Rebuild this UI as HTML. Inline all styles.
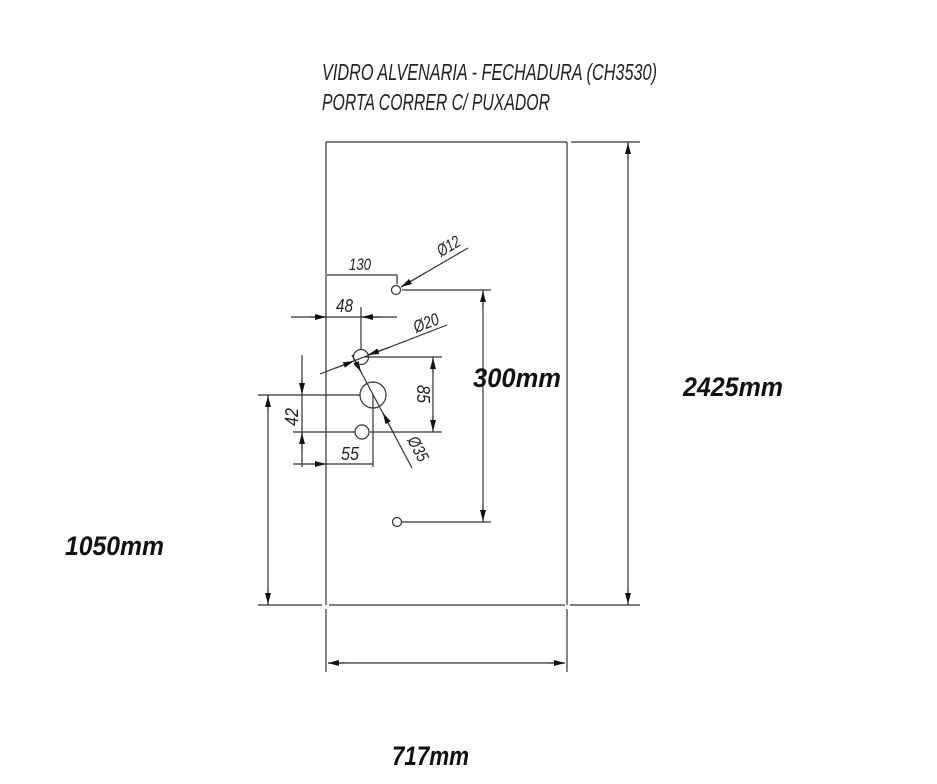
<!DOCTYPE html>
<html><head><meta charset="utf-8"><style>
html,body{margin:0;padding:0;background:#fff;width:937px;height:784px;overflow:hidden}
svg{display:block}
.t{font-family:"Liberation Sans",sans-serif;fill:#222;font-style:italic}
.b{font-family:"Liberation Sans",sans-serif;font-weight:bold;font-style:italic;fill:#111}
</style></head><body>
<svg width="937" height="784" viewBox="0 0 937 784" xmlns="http://www.w3.org/2000/svg">
<defs>
<marker id="a" viewBox="0 0 10 6" refX="10" refY="3" markerWidth="11" markerHeight="7" markerUnits="userSpaceOnUse" orient="auto"><path d="M0,0.3 L10,3 L0,5.7 z" fill="#111"/></marker>
</defs>
<g stroke="#333" stroke-width="1.2" fill="none">
<line x1="326" y1="142" x2="567" y2="142"/>
<line x1="326" y1="142" x2="326" y2="605"/>
<line x1="567" y1="142" x2="567" y2="605"/>
<line x1="258" y1="605" x2="322" y2="605"/>
<line x1="329" y1="605" x2="565" y2="605"/>
<line x1="570" y1="605" x2="640" y2="605"/>
<line x1="571" y1="142" x2="640" y2="142"/>
<line x1="628" y1="142" x2="628" y2="605"/>
<line x1="628" y1="160" x2="628" y2="143" marker-end="url(#a)"/>
<line x1="628" y1="590" x2="628" y2="604" marker-end="url(#a)"/>
<line x1="326" y1="609" x2="326" y2="672"/>
<line x1="567" y1="609" x2="567" y2="672"/>
<line x1="328" y1="663" x2="565" y2="663"/>
<line x1="345" y1="663" x2="328" y2="663" marker-end="url(#a)"/>
<line x1="548" y1="663" x2="565" y2="663" marker-end="url(#a)"/>
<line x1="258" y1="395" x2="360" y2="395"/>
<line x1="268" y1="395" x2="268" y2="605"/>
<line x1="268" y1="410" x2="268" y2="396" marker-end="url(#a)"/>
<line x1="268" y1="590" x2="268" y2="604" marker-end="url(#a)"/>
<circle cx="396" cy="290" r="4.5"/>
<circle cx="361" cy="357" r="7.5"/>
<circle cx="373" cy="395" r="13"/>
<circle cx="362" cy="432" r="7"/>
<circle cx="397" cy="522" r="4.5"/>
<polyline points="327,275 397,275 397,284"/>
<line x1="468" y1="248" x2="401" y2="287"/>
<line x1="425" y1="273" x2="401" y2="287" marker-end="url(#a)"/>
<line x1="402" y1="290" x2="491" y2="290"/>
<line x1="402" y1="522" x2="491" y2="522"/>
<line x1="483" y1="290" x2="483" y2="522"/>
<line x1="483" y1="306" x2="483" y2="291" marker-end="url(#a)"/>
<line x1="483" y1="506" x2="483" y2="521" marker-end="url(#a)"/>
<line x1="291" y1="317" x2="397" y2="317"/>
<line x1="361" y1="307" x2="361" y2="350"/>
<line x1="310" y1="317" x2="326" y2="317" marker-end="url(#a)"/>
<line x1="382" y1="317" x2="362" y2="317" marker-end="url(#a)"/>
<line x1="447" y1="325" x2="320" y2="374"/>
<line x1="390" y1="347" x2="368" y2="355" marker-end="url(#a)"/>
<line x1="336" y1="368" x2="354" y2="361" marker-end="url(#a)"/>
<line x1="365" y1="357" x2="442" y2="357"/>
<line x1="370" y1="432" x2="442" y2="432"/>
<line x1="433" y1="357" x2="433" y2="432"/>
<line x1="433" y1="373" x2="433" y2="358" marker-end="url(#a)"/>
<line x1="433" y1="416" x2="433" y2="431" marker-end="url(#a)"/>
<line x1="352" y1="355" x2="412" y2="468"/>
<line x1="352" y1="355" x2="361" y2="372" marker-end="url(#a)"/>
<line x1="393" y1="432" x2="383" y2="413" marker-end="url(#a)"/>
<line x1="293" y1="432" x2="355" y2="432"/>
<line x1="302" y1="355" x2="302" y2="467"/>
<line x1="302" y1="378" x2="302" y2="394" marker-end="url(#a)"/>
<line x1="302" y1="450" x2="302" y2="433" marker-end="url(#a)"/>
<line x1="293" y1="464" x2="373" y2="464"/>
<line x1="373" y1="395" x2="373" y2="467"/>
<line x1="310" y1="464" x2="326" y2="464" marker-end="url(#a)"/>
</g>
<text class="t" x="322" y="80" font-size="23" textLength="335" lengthAdjust="spacingAndGlyphs">VIDRO ALVENARIA - FECHADURA (CH3530)</text>
<text class="t" x="322" y="110" font-size="23" textLength="228" lengthAdjust="spacingAndGlyphs">PORTA CORRER C/ PUXADOR</text>
<text class="t" x="349" y="270" font-size="17" textLength="22" lengthAdjust="spacingAndGlyphs">130</text>
<text class="t" x="336" y="312" font-size="18" textLength="17" lengthAdjust="spacingAndGlyphs">48</text>
<text class="t" x="341" y="460" font-size="18" textLength="18" lengthAdjust="spacingAndGlyphs">55</text>
<text class="t" font-size="18" transform="translate(298,426) rotate(-90)" textLength="18" lengthAdjust="spacingAndGlyphs">42</text>
<text class="t" font-size="18" transform="translate(417,385) rotate(90)" textLength="18" lengthAdjust="spacingAndGlyphs">85</text>
<text class="t" font-size="17" transform="translate(441,257) rotate(-30)" textLength="24" lengthAdjust="spacingAndGlyphs">Ø12</text>
<text class="t" font-size="17" transform="translate(416,333) rotate(-21)" textLength="26" lengthAdjust="spacingAndGlyphs">Ø20</text>
<text class="t" font-size="17" transform="translate(407,440) rotate(62)" textLength="26" lengthAdjust="spacingAndGlyphs">Ø35</text>
<text class="b" x="473" y="387" font-size="27" textLength="88" lengthAdjust="spacingAndGlyphs">300mm</text>
<text class="b" x="683" y="396" font-size="27" textLength="100" lengthAdjust="spacingAndGlyphs">2425mm</text>
<text class="b" x="65" y="555" font-size="27" textLength="99" lengthAdjust="spacingAndGlyphs">1050mm</text>
<text class="b" x="392" y="765" font-size="27" textLength="77" lengthAdjust="spacingAndGlyphs">717mm</text>
</svg>
</body></html>
